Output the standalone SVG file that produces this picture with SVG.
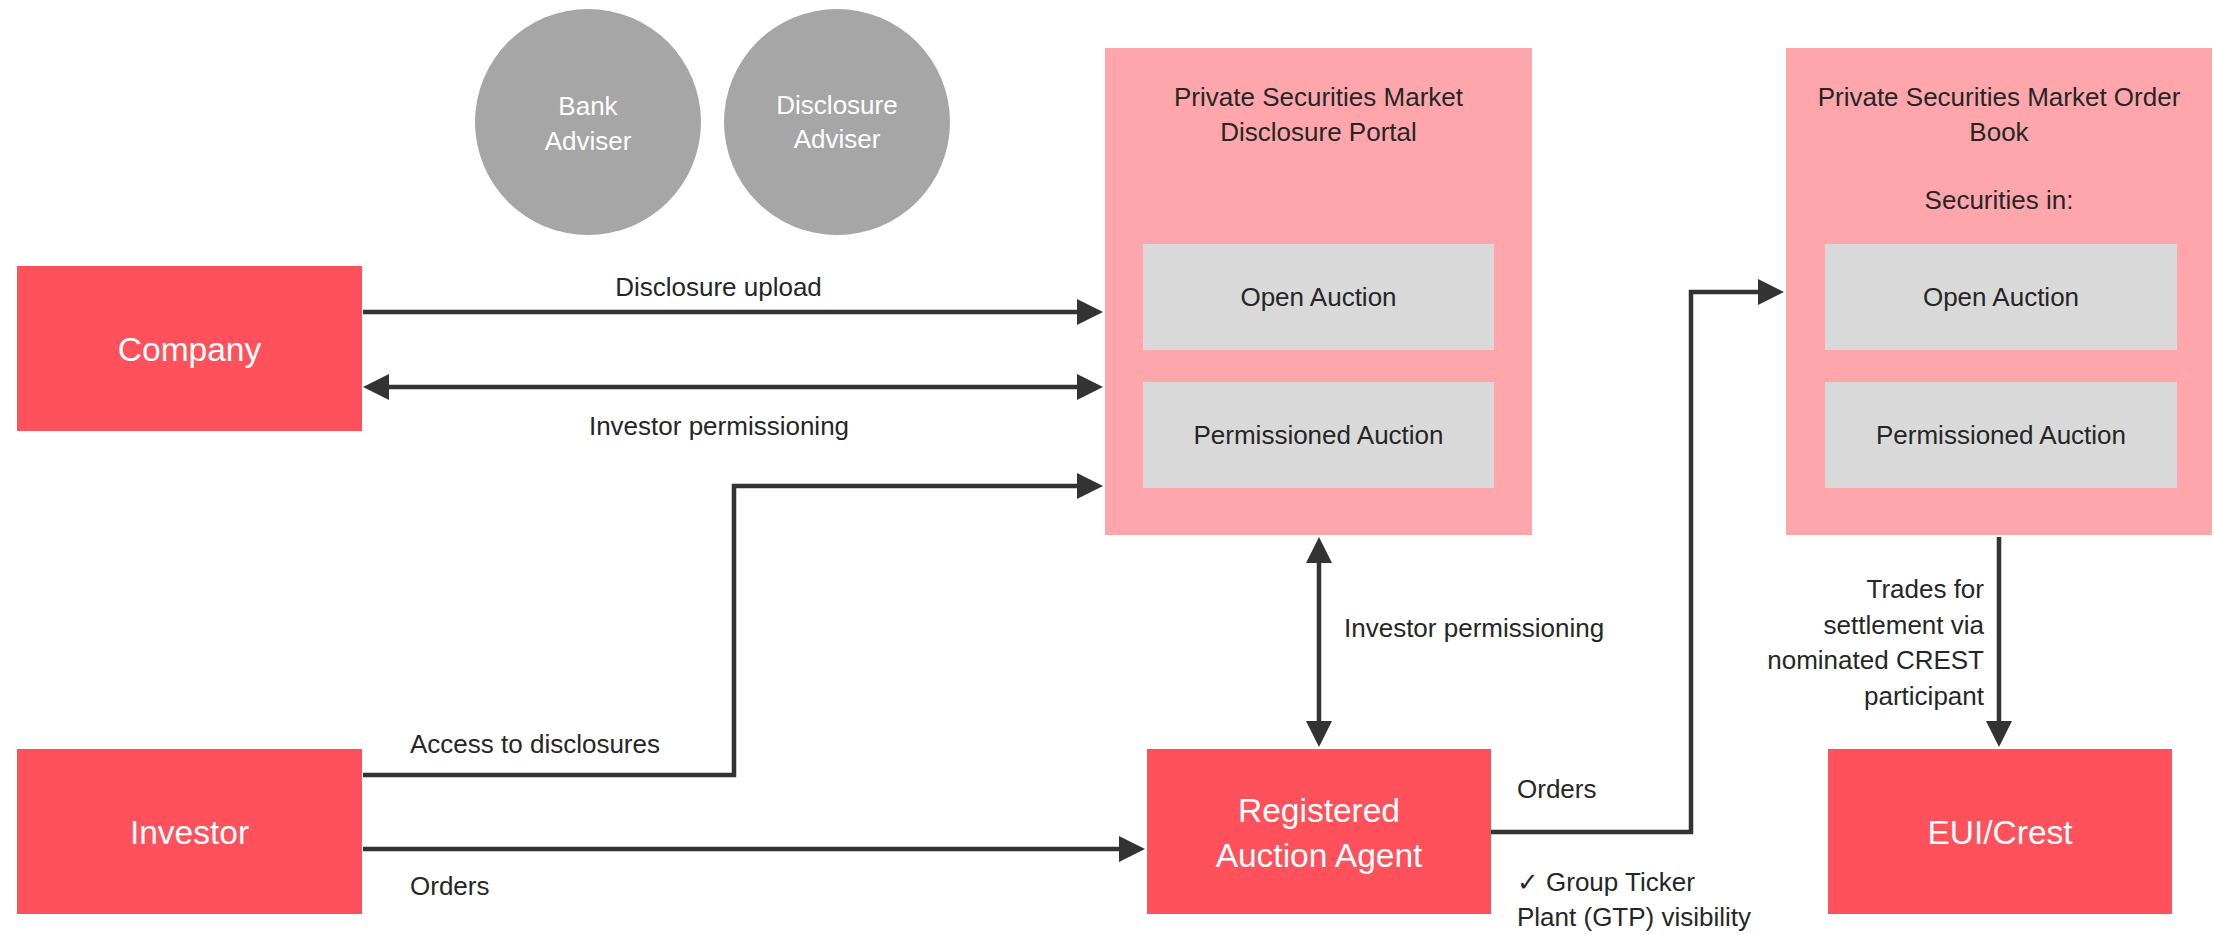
<svg xmlns="http://www.w3.org/2000/svg" width="2214" height="934" viewBox="0 0 2214 934">
<defs>
<style>
text{font-family:"Liberation Sans","DejaVu Sans",Arial,sans-serif}
.red{fill:#FF515B}
.pink{fill:#FFA6AC}
.inner{fill:#D9D9D9}
.circ{fill:#A6A6A6}
.big{font-size:33.5px;fill:#FFFFFF;text-anchor:middle}
.wsm{font-size:26px;fill:#FFFFFF;text-anchor:middle}
.lbl{font-size:26px;fill:#262626}
.mid{text-anchor:middle}
.end{text-anchor:end}
.conn{fill:none;stroke:#333333;stroke-width:4.5}
</style>
<marker id="ah" markerUnits="userSpaceOnUse" markerWidth="27" markerHeight="27" refX="0" refY="13" orient="auto-start-reverse" viewBox="0 0 27 26">
<path d="M0,0 L26,13 L0,26 Z" fill="#333333"/>
</marker>
</defs>
<rect width="2214" height="934" fill="#FFFFFF"/>

<g id="bank-adviser">
<circle class="circ" cx="588" cy="122" r="113"/>
<text class="wsm" x="588" y="115">Bank</text>
<text class="wsm" x="588" y="150">Adviser</text>
</g>
<g id="disclosure-adviser">
<circle class="circ" cx="837" cy="122" r="113"/>
<text class="wsm" x="837" y="114">Disclosure</text>
<text class="wsm" x="837" y="148">Adviser</text>
</g>

<g id="company">
<rect class="red" x="17" y="266" width="345" height="165"/>
<text class="big" x="189.5" y="361">Company</text>
</g>
<g id="investor">
<rect class="red" x="17" y="749" width="345" height="165"/>
<text class="big" x="189.5" y="844">Investor</text>
</g>

<g id="disclosure-portal">
<rect class="pink" x="1105" y="48" width="427" height="487"/>
<text class="lbl mid" x="1318.5" y="106">Private Securities Market</text>
<text class="lbl mid" x="1318.5" y="141">Disclosure Portal</text>
<g id="portal-open-auction">
<rect class="inner" x="1143" y="244" width="351" height="106"/>
<text class="lbl mid" x="1318.5" y="306">Open Auction</text>
</g>
<g id="portal-permissioned-auction">
<rect class="inner" x="1143" y="382" width="351" height="106"/>
<text class="lbl mid" x="1318.5" y="444">Permissioned Auction</text>
</g>
</g>

<g id="order-book">
<rect class="pink" x="1786" y="48" width="426" height="487"/>
<text class="lbl mid" x="1999" y="106">Private Securities Market Order</text>
<text class="lbl mid" x="1999" y="141">Book</text>
<text class="lbl mid" x="1999" y="209">Securities in:</text>
<g id="book-open-auction">
<rect class="inner" x="1825" y="244" width="352" height="106"/>
<text class="lbl mid" x="2001" y="306">Open Auction</text>
</g>
<g id="book-permissioned-auction">
<rect class="inner" x="1825" y="382" width="352" height="106"/>
<text class="lbl mid" x="2001" y="444">Permissioned Auction</text>
</g>
</g>

<g id="registered-auction-agent">
<rect class="red" x="1147" y="749" width="344" height="165"/>
<text class="big" x="1319" y="822">Registered</text>
<text class="big" x="1319" y="867">Auction Agent</text>
</g>
<g id="eui-crest">
<rect class="red" x="1828" y="749" width="344" height="165"/>
<text class="big" x="2000" y="844">EUI/Crest</text>
</g>

<g id="connectors">
<path class="conn" d="M363,312 H1077" marker-end="url(#ah)"/>
<path class="conn" d="M389,387 H1077" marker-start="url(#ah)" marker-end="url(#ah)"/>
<path class="conn" d="M363,775 H734 V486 H1077" marker-end="url(#ah)"/>
<path class="conn" d="M363,849 H1119" marker-end="url(#ah)"/>
<path class="conn" d="M1319,563 V721" marker-start="url(#ah)" marker-end="url(#ah)"/>
<path class="conn" d="M1491,832 H1691 V292 H1758" marker-end="url(#ah)"/>
<path class="conn" d="M1999,537 V721" marker-end="url(#ah)"/>
</g>

<g id="labels">
<text class="lbl mid" x="718.5" y="296">Disclosure upload</text>
<text class="lbl mid" x="719" y="435">Investor permissioning</text>
<text class="lbl" x="410" y="753">Access to disclosures</text>
<text class="lbl" x="410" y="895">Orders</text>
<text class="lbl" x="1344" y="637">Investor permissioning</text>
<text class="lbl" x="1517" y="798">Orders</text>
<text class="lbl" x="1517" y="891">✓ Group Ticker</text>
<text class="lbl" x="1517" y="926">Plant (GTP) visibility</text>
<text class="lbl end" x="1984" y="598">Trades for</text>
<text class="lbl end" x="1984" y="634">settlement via</text>
<text class="lbl end" x="1984" y="669">nominated CREST</text>
<text class="lbl end" x="1984" y="705">participant</text>
</g>
</svg>
